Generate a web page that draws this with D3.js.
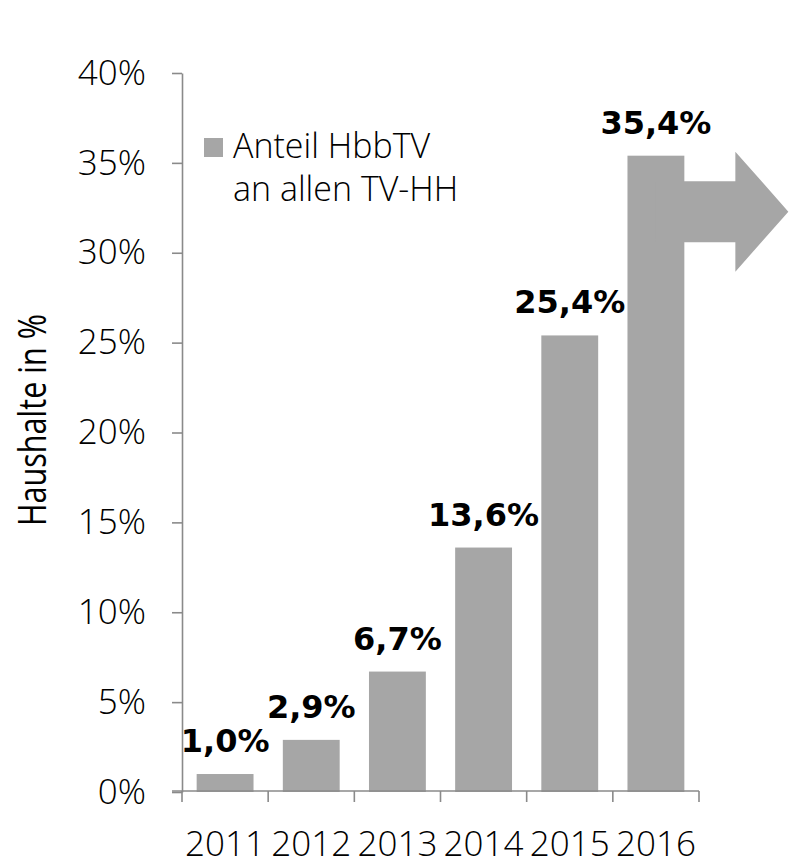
<!DOCTYPE html>
<html>
<head>
<meta charset="utf-8">
<script src="https://cdn.jsdelivr.net/npm/d3@7"></script>
<style>
  html, body { margin: 0; padding: 0; background: #fff; }
  svg { display: block; }
  .tick text, .year, .legend-text { font-family: "Open Sans", sans-serif; font-weight: 300; fill: #000; }
  .ytitle { font-family: "Open Sans", sans-serif; fill: #000; }
  .val { font-family: "DejaVu Sans", sans-serif; font-weight: bold; fill: #000; }
</style>
</head>
<body>
<svg id="chart" width="789" height="865"></svg>
<script>
// Data
const years = ["2011", "2012", "2013", "2014", "2015", "2016"];
const shares = [1.0, 2.9, 6.7, 13.6, 25.4, 35.4];
const valueLabels = ["1,0%", "2,9%", "6,7%", "13,6%", "25,4%", "35,4%"];
const yTicks = [0, 5, 10, 15, 20, 25, 30, 35, 40];
const legendLines = ["Anteil HbbTV", "an allen TV-HH"];
const yTitle = "Haushalte in %";

const barColor = "#a6a6a6";
const axisColor = "#8a8a8a";

const svg = d3.select("#chart");

const x = d3.scaleBand()
  .domain(years)
  .range([182, 699])
  .paddingInner(0.34)
  .paddingOuter(0.17);

const y = d3.scaleLinear()
  .domain([0, 40])
  .range([792, 73]);

// y axis
const yAxis = svg.append("g")
  .attr("transform", "translate(182,0)")
  .call(d3.axisLeft(y)
    .tickValues(yTicks)
    .tickFormat(d => d + "%")
    .tickSize(10)
    .tickSizeOuter(0)
    .tickPadding(26));
yAxis.select(".domain").attr("stroke", axisColor).attr("stroke-width", 1.6);
yAxis.selectAll(".tick line").attr("stroke", axisColor).attr("stroke-width", 1.6);
yAxis.selectAll(".tick text")
  .attr("font-size", 35)
  .attr("font-family", null)
  .attr("fill", null);

// bars
svg.append("g").selectAll("rect")
  .data(years)
  .join("rect")
  .attr("x", d => x(d))
  .attr("width", x.bandwidth())
  .attr("y", (d, i) => y(shares[i]))
  .attr("height", (d, i) => y(0) - y(shares[i]))
  .attr("fill", barColor);

// arrow out of the last bar
(function drawArrow() {
  const last = years[years.length - 1];
  const top = y(shares[shares.length - 1]);
  const xl = x(last) + x.bandwidth() / 2;
  const xr = x(last) + x.bandwidth();
  const headX = xr + 51, tipX = xr + 104;
  const pts = [
    [xl, top + 25.5], [headX, top + 25.5], [headX, top - 4],
    [tipX, top + 56], [headX, top + 116], [headX, top + 86.5], [xl, top + 86.5]
  ];
  svg.append("path")
    .attr("d", d3.line()(pts) + "Z")
    .attr("fill", barColor);
})();

// x axis
const x1 = 699, axisY = 791;
const xAxis = svg.append("g");
xAxis.append("line")
  .attr("x1", 172).attr("x2", x1)
  .attr("y1", axisY).attr("y2", axisY)
  .attr("stroke", axisColor).attr("stroke-width", 1.6);
const bounds = years.map(d => x(d) - x.step() * x.paddingInner() / 2).concat([x1]);
xAxis.selectAll("line.tk")
  .data(bounds)
  .join("line")
  .attr("class", "tk")
  .attr("x1", d => d).attr("x2", d => d)
  .attr("y1", axisY).attr("y2", axisY + 11)
  .attr("stroke", axisColor).attr("stroke-width", 1.6);
xAxis.selectAll("text.year")
  .data(years)
  .join("text")
  .attr("class", "year")
  .attr("x", d => x(d) + x.bandwidth() / 2)
  .attr("y", 855.5)
  .attr("text-anchor", "middle")
  .attr("font-size", 35)
  .text(d => d);

// value labels
svg.append("g").selectAll("text")
  .data(years)
  .join("text")
  .attr("class", "val")
  .attr("x", d => x(d) + x.bandwidth() / 2)
  .attr("y", (d, i) => y(shares[i]) - 22)
  .attr("text-anchor", "middle")
  .attr("font-size", 32)
  .text((d, i) => valueLabels[i]);

// legend
const lg = svg.append("g");
lg.append("rect")
  .attr("x", 204).attr("y", 138)
  .attr("width", 19).attr("height", 19)
  .attr("fill", barColor);
lg.selectAll("text")
  .data(legendLines)
  .join("text")
  .attr("class", "legend-text")
  .attr("x", 233)
  .attr("y", (d, i) => 157.5 + i * 43.5)
  .attr("font-size", 34)
  .text(d => d);

// y title
svg.append("text")
  .attr("class", "ytitle")
  .attr("transform", "translate(46,420) rotate(-90)")
  .attr("text-anchor", "middle")
  .attr("font-size", 38)
  .attr("textLength", 212)
  .attr("lengthAdjust", "spacingAndGlyphs")
  .text(yTitle);
</script>
</body>
</html>
